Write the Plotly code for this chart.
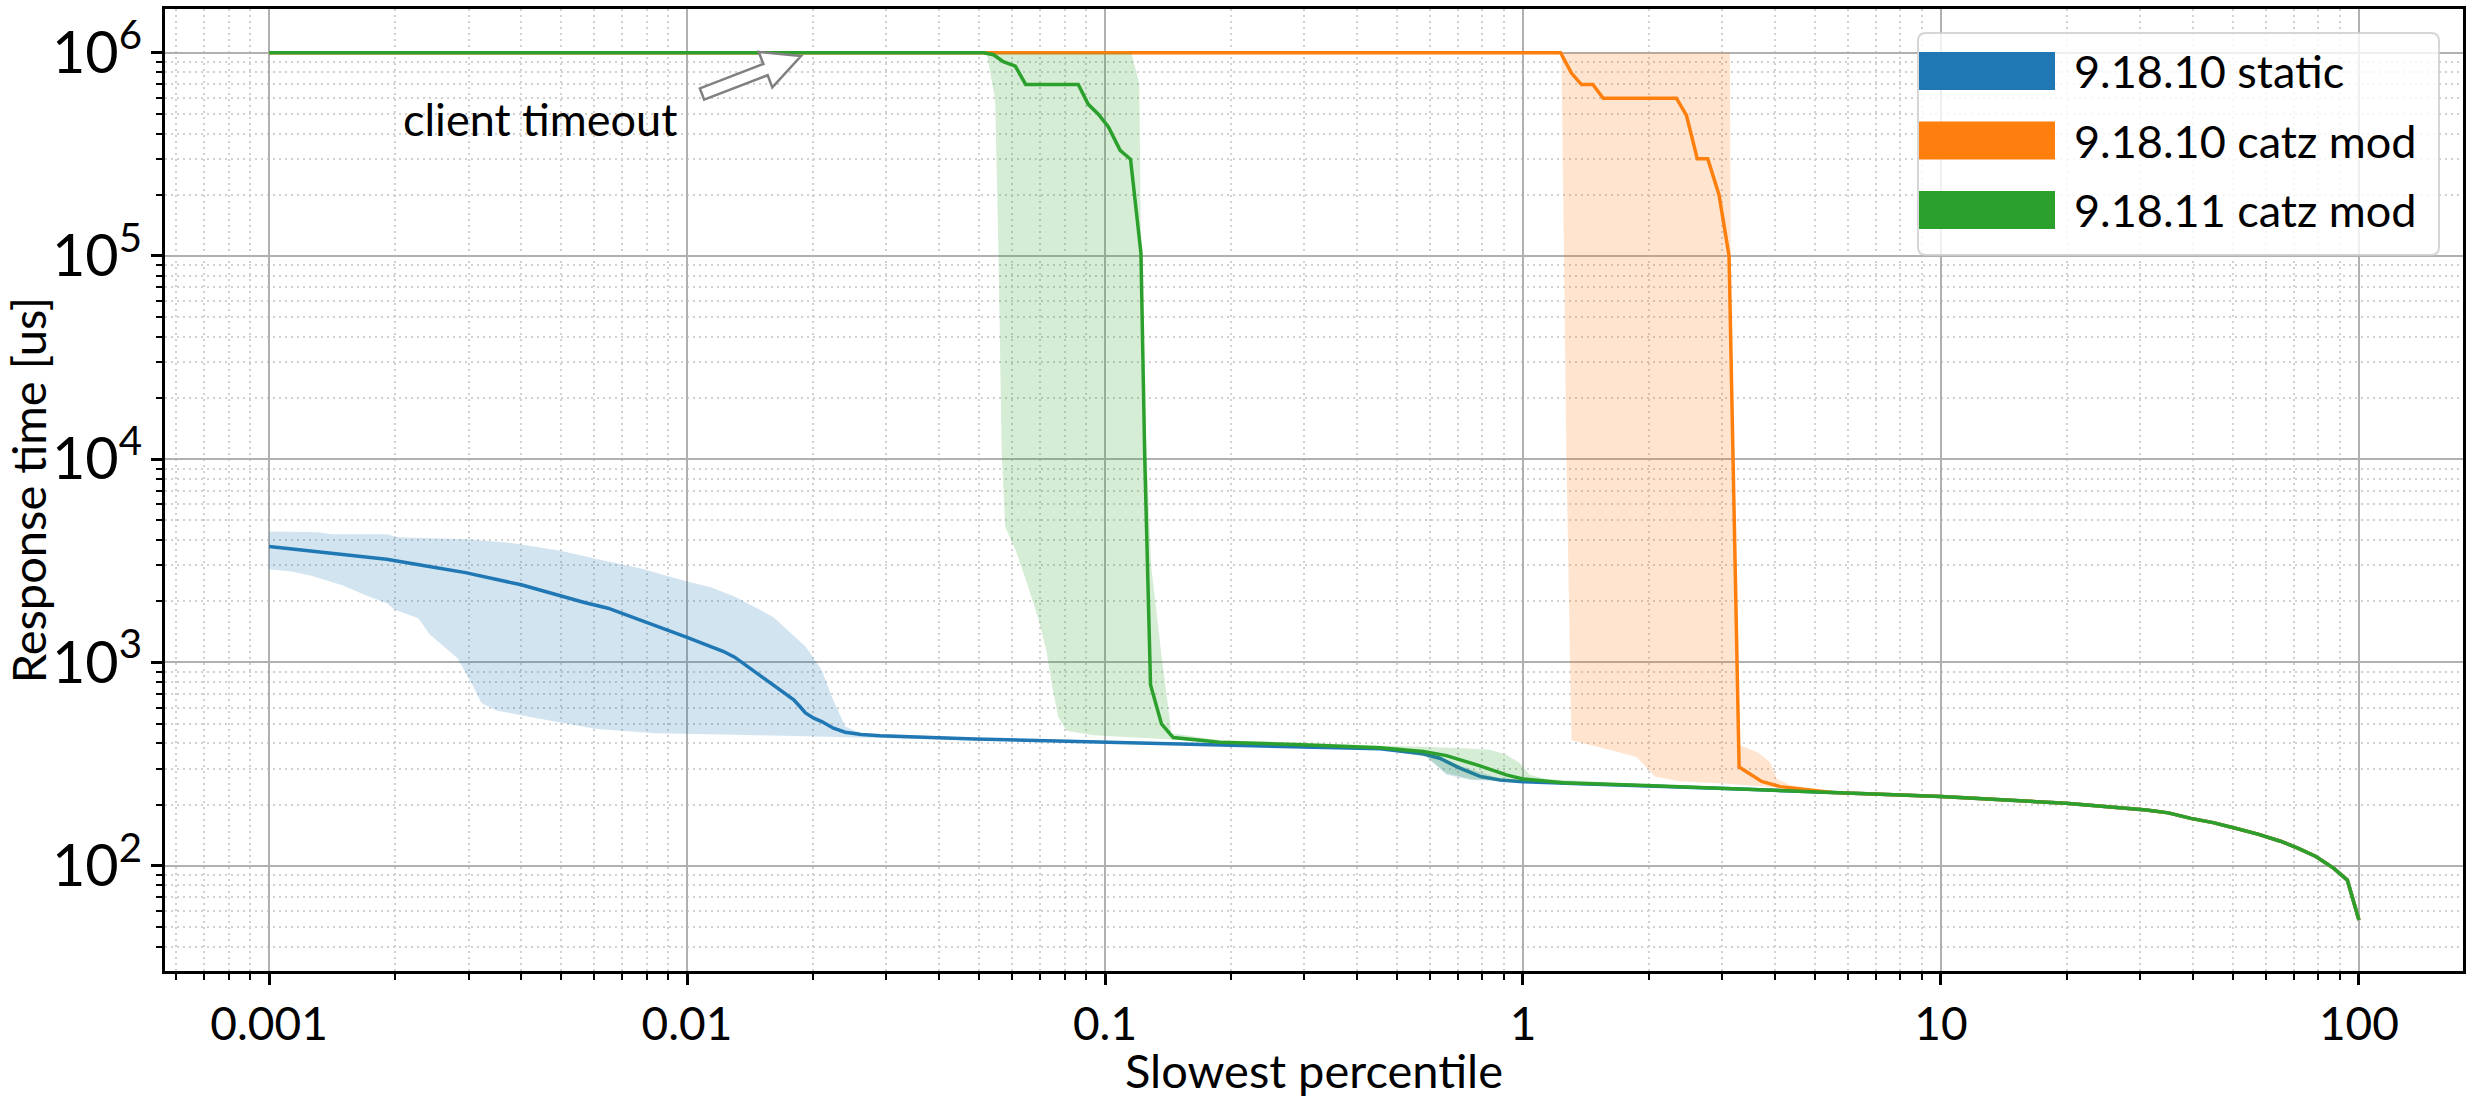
import math
import plotly.graph_objects as go

# ---------------- data ----------------
# shared tail of all three series (slowest percentile, response time in us)
tail_pct = [5.5, 10, 19.9, 31.0, 35.0, 39.6, 44.8, 50.7, 57.3, 64.9, 71.4, 78.9, 87.1, 93.8, 100]
tail_rt = [229, 219, 203, 188, 182, 171, 163, 153, 143, 132, 122, 111, 97, 85, 54]

# 9.18.10 static (median line)
static_pct = [0.001, 0.001318, 0.00191, 0.002377, 0.00295, 0.00401, 0.00568, 0.00647, 0.00771,
              0.00877, 0.0100, 0.0114, 0.0122, 0.0130, 0.01416, 0.0155, 0.01687, 0.0180, 0.01862,
              0.0192, 0.0201, 0.0210, 0.0224, 0.0239, 0.0261, 0.0290, 0.0488, 0.100, 0.296,
              0.455, 0.577, 0.632, 0.706, 0.789, 0.881, 1.0, 1.368, 1.972, 2.65, 3.43]
static_rt = [3715, 3491, 3221, 2985, 2767, 2410, 1972, 1849, 1622, 1475, 1330, 1197, 1135, 1062,
             938, 820, 719, 655, 607, 564, 532, 512, 475, 454, 442, 436, 420, 406, 387, 376, 355,
             338, 302, 275, 264, 259, 253, 247, 243, 238]
# 9.18.10 static band (max / min)
static_hi_pct = [0.001, 0.001318, 0.001406, 0.00191, 0.00204, 0.00295, 0.00384, 0.00498, 0.00619,
                 0.00771, 0.0100, 0.0114, 0.0130, 0.0161, 0.0192, 0.0210, 0.0222, 0.0239, 0.0261,
                 0.0488, 0.100, 0.296, 0.455, 0.577, 0.706, 0.881, 1.0, 1.972, 3.43]
static_hi_rt = [4406, 4375, 4276, 4276, 4130, 4036, 3864, 3540, 3199, 2911, 2500, 2344, 2109,
                1671, 1197, 918, 679, 484, 449, 426, 412, 392, 381, 360, 310, 268, 262, 250, 241]
static_lo_pct = [0.001, 0.001132, 0.001262, 0.001503, 0.001714, 0.00191, 0.002, 0.002275, 0.002427,
                 0.002825, 0.003083, 0.003221, 0.003516, 0.004375, 0.006067, 0.008395, 0.0130,
                 0.0219, 0.0261, 0.0488, 0.100, 0.296, 0.455, 0.587, 0.656, 0.753, 0.95, 1.972, 3.43]
static_lo_rt = [2877, 2799, 2667, 2388, 2128, 1959, 1816, 1652, 1368, 1050, 760, 631, 579, 532,
                470, 449, 441, 433, 430, 415, 401, 383, 372, 344, 280, 264, 258, 245, 236]

# 9.18.10 catz mod
catz10_pct = [0.001, 1.230, 1.306, 1.380, 1.469, 1.556, 2.328, 2.460, 2.612, 2.767, 2.944, 3.112,
              3.289, 3.459, 3.724, 4.12, 4.78]
catz10_rt = [1e6, 1e6, 794000, 697000, 697000, 597000, 597000, 493000, 301000, 301000, 200000,
             100000, 306, 286, 260, 245, 236]
catz10_hi_pct = [0.001, 3.126, 3.14, 3.18, 3.24, 3.30, 3.65, 3.90, 4.05, 4.34]
catz10_hi_rt = [1e6, 1e6, 103000, 8240, 1023, 392, 361, 324, 267, 250]
catz10_lo_pct = [0.001, 1.236, 1.27, 1.306, 1.706, 1.871, 2.07, 2.377, 3.07, 4.34]
catz10_lo_rt = [1e6, 1e6, 10280, 414, 361, 342, 274, 260, 253, 240]

# 9.18.11 catz mod
catz11_pct = [0.001, 0.0512, 0.0541, 0.0571, 0.0610, 0.0646, 0.0863, 0.0912, 0.0964, 0.1019,
              0.1087, 0.1151, 0.1219, 0.1245, 0.1285, 0.1365, 0.1456, 0.188, 0.296, 0.455,
              0.577, 0.656, 0.789, 0.912, 1.0, 1.247, 1.972, 2.65, 3.43]
catz11_rt = [1e6, 1e6, 977000, 904000, 859000, 698000, 698000, 557000, 498000, 431000, 331000,
             299000, 103000, 10000, 776, 498, 427, 405, 394, 381, 365, 348, 310, 280, 267, 256,
             248, 243, 238]
catz11_hi_pct = [0.001, 0.1156, 0.1208, 0.1219, 0.1245, 0.1291, 0.1365, 0.1416, 0.1442, 0.188,
                 0.296, 0.455, 0.577, 0.72, 0.834, 0.912, 0.982, 1.038, 1.135, 1.972, 3.43]
catz11_hi_rt = [1e6, 1e6, 705000, 105700, 18000, 2917, 1086, 614, 449, 414, 403, 389, 385, 378,
                372, 352, 320, 280, 267, 251, 240]
catz11_lo_pct = [0.001, 0.0521, 0.0546, 0.0556, 0.0566, 0.0577, 0.0610, 0.0649, 0.0692, 0.0724,
                 0.0745, 0.0773, 0.0809, 0.0938, 0.146, 0.296, 0.455, 0.587, 0.656, 0.753, 0.95,
                 1.972, 3.43]
catz11_lo_rt = [1e6, 1e6, 587000, 105700, 10700, 4656, 3597, 2495, 1648, 1143, 796, 538, 461,
                438, 419, 386, 374, 345, 285, 266, 259, 246, 237]

series_names = ["9.18.10 static", "9.18.10 catz mod", "9.18.11 catz mod"]
series_colors = ["#1f77b4", "#ff7f0e", "#2ca02c"]
band_colors = ["rgba(31,119,180,0.2)", "rgba(255,127,14,0.2)", "rgba(44,160,44,0.2)"]

x_title = "Slowest percentile"
y_title = "Response time [us]"
note_text = "client timeout"

# ---------------- figure ----------------
FONT = "Lato"
FS_TICK = 46
FS_TITLE = 47
FS_LEG = 45
W, H = 2469, 1098
ML, MR, MT, MB = 165, 6, 9, 127
PW, PH = W - ML - MR, H - MT - MB


def fx(p):
    return (p - ML) / PW


def fy(p):
    return (H - MB - p) / PH


def band_polygon(hx, hy, lx, ly):
    xs = list(hx) + tail_pct + tail_pct[::-1] + list(lx)[::-1]
    ys = list(hy) + tail_rt + tail_rt[::-1] + list(ly)[::-1]
    return xs, ys


fig = go.Figure()
lines = [(static_pct, static_rt), (catz10_pct, catz10_rt), (catz11_pct, catz11_rt)]
bands = [(static_hi_pct, static_hi_rt, static_lo_pct, static_lo_rt),
         (catz10_hi_pct, catz10_hi_rt, catz10_lo_pct, catz10_lo_rt),
         (catz11_hi_pct, catz11_hi_rt, catz11_lo_pct, catz11_lo_rt)]

for name, col, bcol, (lx, ly), bd in zip(series_names, series_colors, band_colors, lines, bands):
    bx, by = band_polygon(*bd)
    fig.add_trace(go.Scatter(x=bx, y=by, mode="lines", fill="toself", fillcolor=bcol,
                             line=dict(width=0, color=bcol), hoverinfo="skip",
                             showlegend=False, name=name + " range"))
    fig.add_trace(go.Scatter(x=lx + tail_pct, y=ly + tail_rt, mode="lines",
                             line=dict(color=col, width=3.5), name=name, showlegend=False))

axis_common = dict(
    type="log", dtick=1, showgrid=True, gridcolor="#b0b0b0", gridwidth=2,
    ticks="outside", ticklen=11, tickwidth=2.5, tickcolor="black",
    showline=True, linecolor="black", linewidth=2.5, mirror=True, zeroline=False,
    tickfont=dict(family=FONT, size=FS_TICK, color="black"),
    minor=dict(dtick="D1", ticks="outside", ticklen=6, tickwidth=1.5, tickcolor="black",
               showgrid=True, gridcolor="#d0d0d0", gridwidth=1.5, griddash="2px,4px"),
)

fig.update_xaxes(**axis_common, range=[-3.249, 2.249], exponentformat="none",
                 title=dict(text=x_title, font=dict(family=FONT, size=FS_TITLE, color="black"),
                            standoff=12))
fig.update_yaxes(**axis_common, range=[1.482, 6.215], exponentformat="power",
                 title=dict(text=y_title, font=dict(family=FONT, size=FS_TITLE, color="black"),
                            standoff=0))

shapes = []
annotations = []

# legend box (rounded)
x0, x1, y0, y1 = fx(1918), fx(2439), fy(255), fy(33)
rx, ry = 8 / PW, 8 / PH
path = (f"M {x0+rx},{y1} L {x1-rx},{y1} Q {x1},{y1} {x1},{y1-ry} L {x1},{y0+ry} "
        f"Q {x1},{y0} {x1-rx},{y0} L {x0+rx},{y0} Q {x0},{y0} {x0},{y0+ry} "
        f"L {x0},{y1-ry} Q {x0},{y1} {x0+rx},{y1} Z")
shapes.append(dict(type="path", path=path, xref="paper", yref="paper",
                   fillcolor="rgba(255,255,255,0.8)", line=dict(color="rgba(204,204,204,0.8)", width=2),
                   layer="above"))
for i, (name, col) in enumerate(zip(series_names, series_colors)):
    cy = 71 + i * 69.5
    shapes.append(dict(type="rect", xref="paper", yref="paper", x0=fx(1919), x1=fx(2055),
                       y0=fy(cy + 19), y1=fy(cy - 19), fillcolor=col, line=dict(width=0),
                       layer="above"))
    annotations.append(dict(text=name, xref="paper", yref="paper", x=fx(2072), y=fy(cy),
                            xanchor="left", yanchor="middle", showarrow=False,
                            font=dict(family=FONT, size=FS_LEG, color="black")))

# hollow arrow pointing at the client timeout line
tx, ty = 702, 94
px_, py_ = 801, 56
dx, dy = px_ - tx, py_ - ty
ln = math.hypot(dx, dy)
ux, uy = dx / ln, dy / ln
nx, ny = -uy, ux
hx, hy = px_ - 38 * ux, py_ - 38 * uy
pts = [(tx + 6 * nx, ty + 6 * ny), (hx + 6 * nx, hy + 6 * ny), (hx + 19 * nx, hy + 19 * ny),
       (px_, py_), (hx - 19 * nx, hy - 19 * ny), (hx - 6 * nx, hy - 6 * ny),
       (tx - 6 * nx, ty - 6 * ny)]
apath = "M " + " L ".join(f"{fx(a)},{fy(b)}" for a, b in pts) + " Z"
shapes.append(dict(type="path", path=apath, xref="paper", yref="paper", fillcolor="white",
                   line=dict(color="#808080", width=2.5), layer="above"))
annotations.append(dict(text=note_text, xref="paper", yref="paper", x=fx(540), y=fy(119),
                        xanchor="center", yanchor="middle", showarrow=False,
                        font=dict(family=FONT, size=FS_LEG, color="black")))

fig.update_layout(
    width=W, height=H, margin=dict(l=ML, r=MR, t=MT, b=MB, autoexpand=False),
    paper_bgcolor="white", plot_bgcolor="white", showlegend=False,
    font=dict(family=FONT, size=FS_TICK, color="black"),
    shapes=shapes, annotations=annotations,
)

fig.write_html("out.html")
